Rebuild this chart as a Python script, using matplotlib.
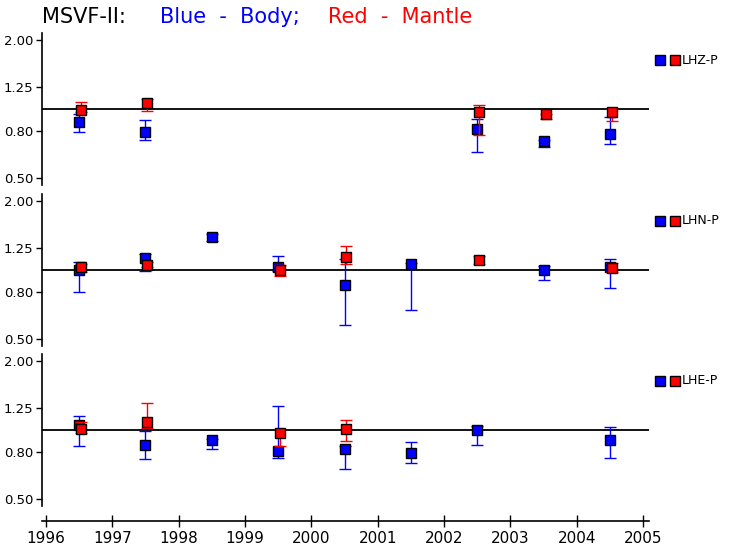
import numpy as np
import matplotlib
matplotlib.use('Agg')
import matplotlib.pyplot as plt
from matplotlib.ticker import FixedLocator, NullLocator, FixedFormatter

# ---- data ----
stations = ['LHZ-P', 'LHN-P', 'LHE-P']

# body (blue)
body_years = [
    [1996, 1997, 2002, 2003, 2004],
    [1996, 1997, 1998, 1999, 2000, 2001, 2003, 2004],
    [1996, 1997, 1998, 1999, 2000, 2001, 2002, 2004],
]
body_val = [
    [0.874, 0.790, 0.820, 0.728, 0.775],
    [0.997, 1.124, 1.395, 1.034, 0.860, 1.065, 0.997, 1.034],
    [1.049, 0.861, 0.906, 0.810, 0.827, 0.794, 1.000, 0.906],
]
body_lo = [
    [0.794, 0.733, 0.649, 0.683, 0.703],
    [0.800, 0.990, 1.336, 0.990, 0.575, 0.668, 0.902, 0.833],
    [0.848, 0.750, 0.830, 0.758, 0.678, 0.720, 0.856, 0.758],
]
body_hi = [
    [0.954, 0.895, 0.905, 0.735, 0.923],
    [1.087, 1.170, 1.430, 1.147, 1.113, 1.070, 1.038, 1.113],
    [1.149, 0.990, 0.910, 1.276, 0.848, 0.883, 1.040, 1.028],
]

# mantle (red)
mantle_years = [
    [1996, 1997, 2002, 2003, 2004],
    [1996, 1997, 1999, 2000, 2002, 2004],
    [1996, 1997, 1999, 2000],
]
mantle_val = [
    [0.993, 1.058, 0.973, 0.947, 0.967],
    [1.027, 1.054, 1.000, 1.135, 1.109, 1.023],
    [1.013, 1.088, 0.967, 1.013],
]
mantle_lo = [
    [0.966, 0.980, 0.770, 0.905, 0.886],
    [0.980, 1.027, 0.939, 1.062, 1.065, 0.977],
    [0.973, 1.017, 0.853, 0.892],
]
mantle_hi = [
    [1.073, 1.100, 1.041, 0.950, 1.000],
    [1.060, 1.080, 1.054, 1.268, 1.154, 1.070],
    [1.081, 1.311, 1.013, 1.103],
]

yticks = [0.5, 0.8, 1.25, 2.0]
ytick_labels = ['0.50', '0.80', '1.25', '2.00']
xticks = list(range(1996, 2006))

W, H = 733, 551
fig = plt.figure(figsize=(W / 100, H / 100), dpi=100)

left = 42 / W
width = (649 - 42) / W
centers = [109, 270, 430]
half = 76


def errs(val, lo, hi):
    v = np.array(val)
    return [np.clip(v - np.array(lo), 0, None), np.clip(np.array(hi) - v, 0, None)]


axes = []
for i, name in enumerate(stations):
    top = centers[i] - half
    bot = centers[i] + half
    ax = fig.add_axes([left, 1 - bot / H, width, (bot - top) / H])
    axes.append(ax)
    ax.set_yscale('log')
    ax.set_ylim(0.466, 2.145)
    ax.set_xlim(1995.94, 2005.09)
    for s in ['top', 'right']:
        ax.spines[s].set_visible(False)
    ax.spines['left'].set_linewidth(1.2)
    ax.yaxis.set_major_locator(FixedLocator(yticks))
    ax.yaxis.set_major_formatter(FixedFormatter(ytick_labels))
    ax.yaxis.set_minor_locator(NullLocator())
    ax.tick_params(axis='y', direction='out', length=4, width=1, labelsize=9.5, pad=2)
    ax.axhline(1.0, color='black', lw=1.3, zorder=1)

    bx = np.array(body_years[i]) + 0.5
    ax.errorbar(bx, body_val[i], yerr=errs(body_val[i], body_lo[i], body_hi[i]),
                fmt='s', color='blue', ecolor='blue', mfc='blue', mec='black',
                mew=1.0, ms=7.5, capsize=4.5, elinewidth=1.0, capthick=1.0, zorder=3)
    rx = np.array(mantle_years[i]) + 0.53
    ax.errorbar(rx, mantle_val[i], yerr=errs(mantle_val[i], mantle_lo[i], mantle_hi[i]),
                fmt='s', color='red', ecolor='red', mfc='red', mec='black',
                mew=1.0, ms=7.5, capsize=4.5, elinewidth=1.0, capthick=1.0, zorder=4)

    # legend on the right
    ly = 1 - (centers[i] - 49) / H
    fig.add_artist(plt.Line2D([660 / W], [ly], marker='s', ms=7, mfc='blue', mec='black',
                              mew=1.0, ls='none', transform=fig.transFigure))
    fig.add_artist(plt.Line2D([675 / W], [ly], marker='s', ms=7, mfc='red', mec='black',
                              mew=1.0, ls='none', transform=fig.transFigure))
    fig.text(682 / W, ly, name, fontsize=9, va='center', ha='left')

    if i < 2:
        ax.spines['bottom'].set_visible(False)
        ax.set_xticks([])
    else:
        ax.spines['bottom'].set_position(('outward', 11))
        ax.spines['bottom'].set_linewidth(1.2)
        ax.set_xticks(xticks)
        ax.set_xticklabels([str(x) for x in xticks])
        ax.tick_params(axis='x', direction='inout', length=8, width=1, labelsize=11, pad=3)

# title
ty = 1 - 17 / H
fig.text(42 / W, ty, 'MSVF-II:', fontsize=15, color='black', va='center')
fig.text(160 / W, ty, 'Blue  -  Body;', fontsize=15, color='blue', va='center')
fig.text(328 / W, ty, 'Red  -  Mantle', fontsize=15, color='red', va='center')

fig.savefig('out.png', dpi=100)
